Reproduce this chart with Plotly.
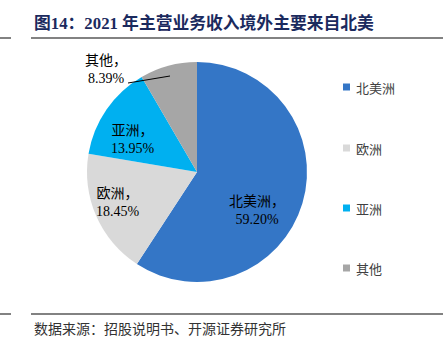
import plotly.graph_objects as go

# Overseas revenue split by region, 2021 (%)
regions = ["北美洲", "欧洲", "亚洲", "其他"]
shares = [59.20, 18.45, 13.95, 8.39]
colors = ["#3476C6", "#D9D9D9", "#00B0F0", "#A6A6A6"]

title_text = "图14：2021 年主营业务收入境外主要来自北美"
source_text = "数据来源：招股说明书、开源证券研究所"

W, H = 443, 350
LABEL_FONT = "Liberation Serif, Noto Sans CJK SC"
CJK_FONT = "Noto Sans CJK SC"

def px(x):
    return x / W

def py(y):
    return 1 - y / H

fig = go.Figure()
fig.add_trace(go.Pie(
    labels=regions,
    values=shares,
    sort=False,
    direction="clockwise",
    rotation=0,
    marker=dict(colors=colors, line=dict(width=0)),
    textinfo="none",
    showlegend=False,
    domain=dict(x=[px(87), px(307)], y=[py(282), py(62)]),
))

annotations = []
shapes = []

# slice labels (text centres, pixel positions)
label_pos = [(257, 210), (118, 202), (133, 139), (106, 69)]
for name, val, (x, y) in zip(regions, shares, label_pos):
    annotations.append(dict(
        x=px(x), y=py(y), xref="paper", yref="paper",
        text=f"{name}，<br>{val:.2f}%", showarrow=False,
        font=dict(family=LABEL_FONT, size=14, color="#000000"),
        align="center", xanchor="center", yanchor="middle",
    ))

# leader line for the small slice
shapes.append(dict(type="line", xref="paper", yref="paper",
                   x0=px(128), y0=py(83), x1=px(170), y1=py(76),
                   line=dict(color="#000000", width=1)))

# legend drawn on the right
legend_y = [87, 148, 208, 268]
for name, col, y in zip(regions, colors, legend_y):
    shapes.append(dict(type="rect", xref="paper", yref="paper",
                       x0=px(343), x1=px(350), y0=py(y + 3.5), y1=py(y - 3.5),
                       fillcolor=col, line=dict(width=0)))
    annotations.append(dict(
        x=px(354), y=py(y), xref="paper", yref="paper",
        text=name, showarrow=False, xanchor="left", yanchor="middle",
        font=dict(family=CJK_FONT, size=13, color="#404040"),
    ))

# title and source
annotations.append(dict(
    x=px(32), y=py(23), xref="paper", yref="paper",
    text=f"<b>{title_text}</b>", showarrow=False,
    xanchor="left", yanchor="middle",
    font=dict(family="Liberation Serif, " + CJK_FONT, size=16.8, color="#1B2A5E"),
))
annotations.append(dict(
    x=px(32), y=py(328), xref="paper", yref="paper",
    text=source_text, showarrow=False,
    xanchor="left", yanchor="middle",
    font=dict(family=CJK_FONT, size=14, color="#333333"),
))

# rules above and below the chart
for y in (38, 314):
    shapes.append(dict(type="line", xref="paper", yref="paper",
                       x0=px(0), x1=px(11), y0=py(y), y1=py(y),
                       line=dict(color="#595959", width=1.5)))
    shapes.append(dict(type="line", xref="paper", yref="paper",
                       x0=px(31), x1=px(443), y0=py(y), y1=py(y),
                       line=dict(color="#595959", width=1.5)))

fig.update_layout(
    width=W, height=H,
    margin=dict(l=0, r=0, t=0, b=0),
    paper_bgcolor="#FFFFFF",
    plot_bgcolor="#FFFFFF",
    annotations=annotations,
    shapes=shapes,
)

fig.write_html("out.html")
